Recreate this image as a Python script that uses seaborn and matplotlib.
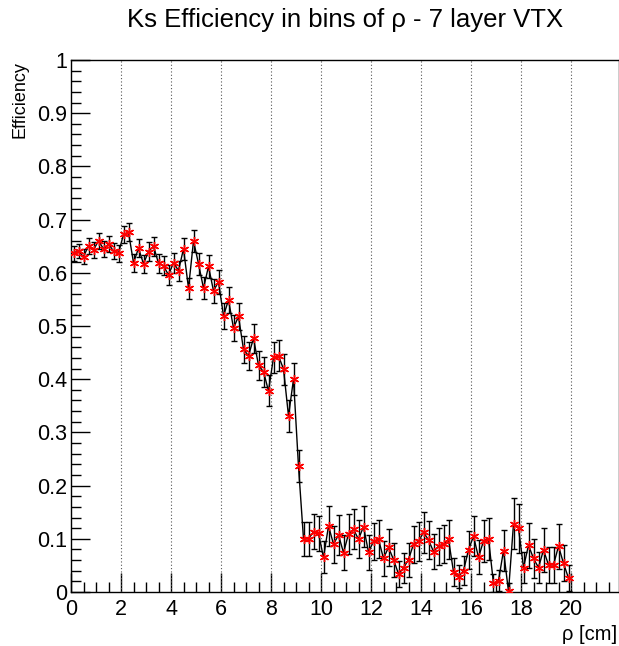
import numpy as np
import pandas as pd
import matplotlib
matplotlib.use("Agg")
import matplotlib.pyplot as plt
from matplotlib.ticker import MultipleLocator
import seaborn as sns

# ---- data (bin centres in cm, efficiency, error) ----
rho = [round(0.1 + 0.2 * i, 2) for i in range(100)]

eff = [
    0.637, 0.641, 0.630, 0.651, 0.643, 0.660, 0.645, 0.654, 0.641, 0.637,
    0.672, 0.676, 0.619, 0.646, 0.617, 0.640, 0.650, 0.618, 0.613, 0.596,
    0.619, 0.604, 0.645, 0.571, 0.660, 0.617, 0.571, 0.612, 0.566, 0.583,
    0.519, 0.549, 0.496, 0.518, 0.456, 0.444, 0.477, 0.426, 0.414, 0.378,
    0.441, 0.444, 0.419, 0.331, 0.400, 0.236, 0.100, 0.100, 0.113, 0.110,
    0.065, 0.124, 0.090, 0.107, 0.074, 0.109, 0.118, 0.099, 0.123, 0.075,
    0.095, 0.099, 0.063, 0.084, 0.061, 0.034, 0.045, 0.061, 0.090, 0.095,
    0.112, 0.098, 0.076, 0.086, 0.090, 0.099, 0.038, 0.029, 0.040, 0.079,
    0.105, 0.065, 0.096, 0.100, 0.016, 0.021, 0.078, 0.001, 0.128, 0.120,
    0.046, 0.088, 0.063, 0.046, 0.079, 0.051, 0.051, 0.086, 0.054, 0.026,
]

err = [
    0.014, 0.014, 0.014, 0.015, 0.015, 0.015, 0.015, 0.015, 0.015, 0.016,
    0.016, 0.017, 0.017, 0.017, 0.017, 0.018, 0.018, 0.018, 0.018, 0.019,
    0.019, 0.019, 0.020, 0.020, 0.020, 0.021, 0.021, 0.021, 0.022, 0.022,
    0.024, 0.024, 0.025, 0.025, 0.026, 0.026, 0.027, 0.027, 0.028, 0.029,
    0.029, 0.029, 0.029, 0.030, 0.030, 0.030, 0.032, 0.032, 0.033, 0.033,
    0.030, 0.038, 0.035, 0.037, 0.033, 0.037, 0.038, 0.036, 0.038, 0.033,
    0.035, 0.036, 0.032, 0.035, 0.032, 0.025, 0.028, 0.032, 0.035, 0.036,
    0.038, 0.036, 0.033, 0.035, 0.036, 0.037, 0.026, 0.022, 0.027, 0.035,
    0.038, 0.032, 0.040, 0.040, 0.018, 0.020, 0.038, 0.015, 0.048, 0.046,
    0.030, 0.042, 0.036, 0.030, 0.042, 0.034, 0.034, 0.042, 0.034, 0.024,
]

title = "Ks Efficiency in bins of \u03c1 - 7 layer VTX"
xlabel = "\u03c1 [cm]"
ylabel = "Efficiency"

df = pd.DataFrame({"rho": rho, "eff": eff, "err": err})

# ---- style ----
sns.set_theme(style="ticks")
plt.rcParams["font.family"] = ["Liberation Sans", "DejaVu Sans"]
plt.rcParams["text.color"] = "black"

W, H = 619, 646
fig = plt.figure(figsize=(W / 100, H / 100), dpi=100)
ax = fig.add_axes([71 / W, 1 - 592 / H, (619 - 71) / W, (592 - 60) / H])

lo = np.minimum(df["err"].values, df["eff"].values)
hi = df["err"].values
ax.errorbar(df["rho"], df["eff"], yerr=[lo, hi], fmt="none", ecolor="black",
            elinewidth=1.0, capsize=2.2, capthick=1.0, zorder=2)
sns.lineplot(data=df, x="rho", y="eff", color="black", lw=1.0, ax=ax,
             zorder=3, estimator=None, sort=False)
ax.plot(df["rho"], df["eff"], ls="none", marker=(6, 2, 0), ms=6.5, mew=1.0,
        color="red", zorder=4)

ax.set_xlim(0, (619 - 71) / 25.0)
ax.set_ylim(0, 1)

ax.xaxis.set_major_locator(MultipleLocator(2))
ax.xaxis.set_minor_locator(MultipleLocator(0.5))
ax.yaxis.set_major_locator(MultipleLocator(0.1))
ax.yaxis.set_minor_locator(MultipleLocator(0.02))
ax.yaxis.set_major_formatter(plt.FuncFormatter(lambda v, p: "%g" % round(v, 2)))
ax.xaxis.set_major_formatter(plt.FuncFormatter(lambda v, p: "%g" % round(v, 2)))

ax.tick_params(axis="both", which="major", direction="in", length=14, width=1,
               colors="black", labelsize=15.5)
ax.tick_params(axis="both", which="minor", direction="in", length=7, width=1,
               colors="black")
ax.tick_params(axis="x", which="major", pad=5)
ax.tick_params(axis="y", which="major", pad=3)

ax.grid(False)
for xv in range(2, 21, 2):
    ax.axvline(xv, color="#555555", lw=0.8, ls=(0, (1, 2)), zorder=1)

for s in ax.spines.values():
    s.set_color("black")
    s.set_linewidth(1.0)

ax.set_xlabel("")
ax.set_ylabel("")
fig.text(617 / W, 1 - 634 / H, xlabel, ha="right", va="center", fontsize=14.5,
         color="black")
fig.text(20 / W, 1 - 61 / H, ylabel, ha="center", va="top", rotation=90,
         fontsize=13, color="black")

fig.text(345 / W, 1 - 20 / H, title, ha="center", va="center", fontsize=18.5,
         color="black")

fig.savefig("out.png", dpi=100)
